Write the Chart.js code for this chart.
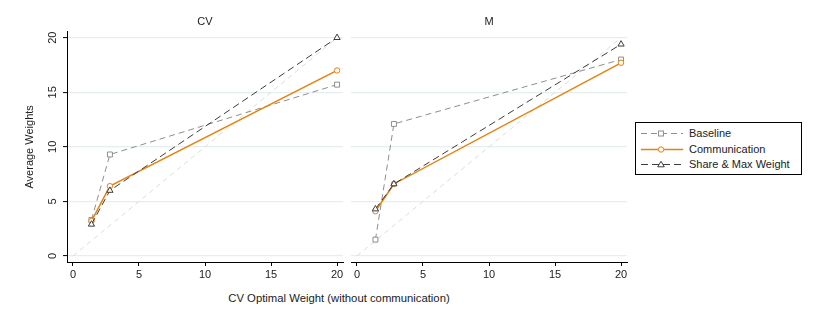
<!DOCTYPE html>
<html><head><meta charset="utf-8">
<script src="https://cdn.jsdelivr.net/npm/chart.js@4.4.1/dist/chart.umd.min.js"></script>
<style>
html,body{margin:0;padding:0;background:#fff;}
body{width:817px;height:328px;overflow:hidden;position:relative;font-family:"Liberation Sans",Arial,sans-serif;color:#222;}
canvas{position:absolute;top:0;}
#c1{left:0;}
#c2{left:345px;}
#xtitle{position:absolute;left:0;width:678px;top:290px;text-align:center;font-size:11.3px;line-height:16px;}
#legend{position:absolute;left:635px;top:122px;width:165px;height:51px;border:1px solid #000;background:#fff;font-size:11px;}
.row{position:absolute;left:0;height:15px;width:165px;}
.row svg{position:absolute;left:4px;top:0;}
.row span{position:absolute;left:53px;top:0;line-height:15px;white-space:nowrap;}
</style>
</head><body>
<canvas id="c1" width="352" height="290"></canvas>
<canvas id="c2" width="290" height="290"></canvas>
<div id="xtitle">CV Optimal Weight (without communication)</div>
<div id="legend"></div>
<script>
// ---- data ----
const panelTitles = ['CV', 'M'];
const xValues = [1.4, 2.8, 20];
const baselineCV = [3.3, 9.3, 15.7];
const communicationCV = [3.2, 6.4, 17.0];
const shareCV = [2.9, 6.0, 20.0];
const baselineM = [1.5, 12.1, 18.0];
const communicationM = [4.1, 6.6, 17.7];
const shareM = [4.3, 6.6, 19.4];
const refX = [0, 20];
const refY = [0, 20];
const xTicks = [0, 5, 10, 15, 20];
const yTicks = [0, 5, 10, 15, 20];
const seriesNames = ['Baseline', 'Communication', 'Share & Max Weight'];
const yTitle = 'Average Weights';

// ---- styles ----
const FONT = "'Liberation Sans', Arial, sans-serif";
const styles = {
  Baseline: {color: '#8e8e8e', dash: [6, 4], width: 1, point: 'rect', radius: 3.5},
  Communication: {color: '#e8820e', dash: [], width: 1.5, point: 'circle', radius: 2.7},
  'Share & Max Weight': {color: '#3c3c3c', dash: [7, 4], width: 1, point: 'triangle', radius: 3.6}
};

const pts = (xs, ys) => xs.map((x, i) => ({x: x, y: ys[i]}));

function series(name, ys) {
  const s = styles[name];
  return {
    label: name, data: pts(xValues, ys),
    borderColor: s.color, borderWidth: s.width, borderDash: s.dash,
    pointStyle: s.point, pointRadius: s.radius, pointBorderColor: s.color,
    pointBackgroundColor: '#fff', pointBorderWidth: 1, pointHoverRadius: s.radius,
    tension: 0, fill: false
  };
}
function refLine() {
  return {label: 'ref', data: pts(refX, refY), borderColor: '#dcdcdc', borderWidth: 1,
    borderDash: [5, 4], pointRadius: 0, fill: false, tension: 0};
}

function makeChart(id, title, b, c, s, isLeft) {
  new Chart(document.getElementById(id), {
    type: 'line',
    data: {datasets: [series(seriesNames[2], s), series(seriesNames[1], c), series(seriesNames[0], b), refLine()]},
    options: {
      responsive: false, animation: false, events: [],
      layout: {padding: {left: 0, right: isLeft ? 9 : 8, top: 0, bottom: 0}},
      plugins: {
        legend: {display: false}, tooltip: {enabled: false},
        title: {display: true, text: title, fullSize: false, color: '#222',
          font: {family: FONT, size: 11, weight: 'normal'}, padding: {top: 15, bottom: 3.5}}
      },
      scales: {
        x: {
          type: 'linear', min: -0.45, max: 20.45,
          afterBuildTicks: sc => { sc.ticks = xTicks.map(v => ({value: v})); },
          afterFit: sc => { sc.height = 28; },
          grid: {drawOnChartArea: false, drawTicks: true, tickLength: 4, tickColor: '#000', tickWidth: 1},
          border: {display: true, color: '#000', width: 1},
          ticks: {color: '#222', padding: 2, maxRotation: 0, font: {family: FONT, size: 11}}
        },
        y: {
          type: 'linear', min: -0.55, max: 20.55,
          afterBuildTicks: sc => { sc.ticks = yTicks.map(v => ({value: v})); },
          afterFit: sc => { sc.width = isLeft ? 67 : 6; },
          grid: {display: true, drawOnChartArea: true, drawTicks: isLeft, tickLength: 4,
            color: '#e6eef0', lineWidth: 1.2, tickColor: '#000', tickWidth: 1},
          border: {display: isLeft, color: '#000', width: 1},
          ticks: {display: isLeft, color: '#222', padding: 4, minRotation: 90, maxRotation: 90,
            crossAlign: 'center', font: {family: FONT, size: 11}},
          title: {display: isLeft, text: yTitle, color: '#222', font: {family: FONT, size: 11},
            padding: {top: 23, bottom: 0}}
        }
      }
    }
  });
}

makeChart('c1', panelTitles[0], baselineCV, communicationCV, shareCV, true);
makeChart('c2', panelTitles[1], baselineM, communicationM, shareM, false);

// ---- legend ----
const legend = document.getElementById('legend');
const rowTops = [3, 18.5, 33.5];
seriesNames.forEach((name, i) => {
  const s = styles[name];
  const row = document.createElement('div');
  row.className = 'row';
  row.style.top = rowTops[i] + 'px';
  let marker = '';
  if (s.point === 'rect') marker = `<rect x="18.5" y="5" width="5" height="5" fill="#fff" stroke="${s.color}" stroke-width="1"/>`;
  else if (s.point === 'circle') marker = `<circle cx="21" cy="7.5" r="2.7" fill="#fff" stroke="${s.color}" stroke-width="1"/>`;
  else marker = `<polygon points="21,4.3 24.3,9.8 17.7,9.8" fill="#fff" stroke="${s.color}" stroke-width="1"/>`;
  row.innerHTML = `<svg width="44" height="15"><line x1="1" y1="7.5" x2="43" y2="7.5" stroke="${s.color}" stroke-width="${s.width}" stroke-dasharray="${s.dash.join(',')}"/>${marker}</svg><span>${name}</span>`;
  legend.appendChild(row);
});
</script>
</body></html>
